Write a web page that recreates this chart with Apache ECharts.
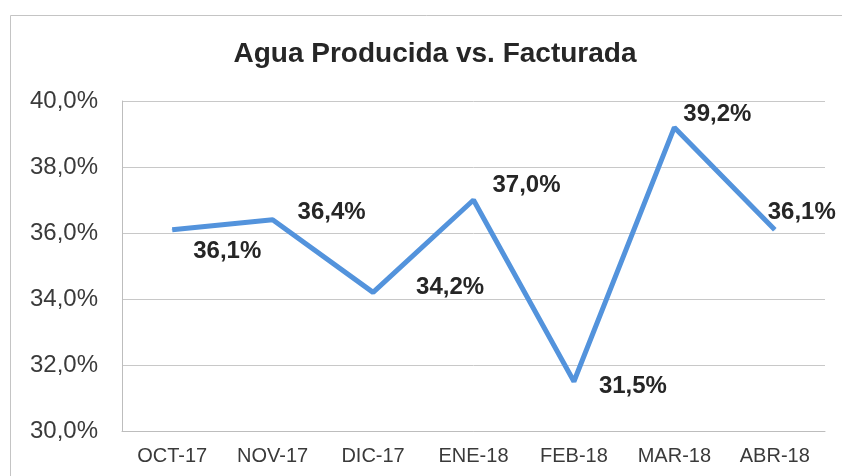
<!DOCTYPE html>
<html>
<head>
<meta charset="utf-8">
<title>Agua Producida vs. Facturada</title>
<script src="https://cdn.jsdelivr.net/npm/echarts@6/dist/echarts.min.js"></script>
<style>
    html, body {
        margin: 0;
        padding: 0;
        background: #fff;
    }
    #chartLine {
        width: 842px;
        height: 476px;
    }
</style>
</head>
<body>
<div id="chartLine"></div>
<script>
// data
var months = ["OCT-17", "NOV-17", "DIC-17", "ENE-18", "FEB-18", "MAR-18", "ABR-18"];
var percent = [36.1, 36.4, 34.2, 37.0, 31.5, 39.2, 36.1];
var yTicks = { min: 30, max: 40, step: 2 };

// where each value label sits relative to its point (px)
var labelOffsets = [[55, 22], [59, -7], [77, -5], [53, -15], [59, 5], [43, -13], [27, -17]];

function fmt(v) {
    return v.toFixed(1).replace(".", ",") + "%";
}

var chartLine = echarts.init(document.getElementById("chartLine"));
chartLine.setOption({
    animation: false,
    textStyle: { fontFamily: "Liberation Sans, Arial, sans-serif" },
    graphic: [
        {
            type: "rect",
            left: 8,
            top: 13,
            shape: { width: 900, height: 500 },
            style: { fill: "none", stroke: "#c4c4c4", lineWidth: 1 },
            silent: true
        }
    ],
    title: {
        text: "Agua Producida vs. Facturada",
        left: 430,
        top: 35,
        textAlign: "center",
        textStyle: {
            fontSize: 28,
            fontWeight: "bold",
            color: "#262626"
        }
    },
    grid: {
        left: 122,
        right: 17,
        top: 101,
        bottom: 45
    },
    xAxis: {
        type: "category",
        data: months,
        boundaryGap: true,
        axisLine: { lineStyle: { color: "#bdbdbd", width: 1 } },
        axisTick: { show: false },
        axisLabel: {
            margin: 15,
            fontSize: 20,
            color: "#3a3a3a"
        }
    },
    yAxis: {
        type: "value",
        min: yTicks.min,
        max: yTicks.max,
        interval: yTicks.step,
        axisLine: { show: true, lineStyle: { color: "#bdbdbd", width: 1 } },
        axisTick: { show: false },
        splitLine: { lineStyle: { color: "#c8c8c8", width: 1 } },
        axisLabel: {
            margin: 24,
            fontSize: 24,
            color: "#3a3a3a",
            formatter: fmt
        }
    },
    series: [
        {
            name: "Agua Producida vs. Facturada",
            type: "line",
            symbol: "circle",
            symbolSize: 1,
            lineStyle: { color: "#5393dc", width: 5 },
            itemStyle: { color: "#5393dc" },
            label: {
                show: true,
                position: "inside",
                fontSize: 24,
                fontWeight: "bold",
                color: "#262626",
                formatter: function (p) {
                    return fmt(p.value);
                }
            },
            data: percent.map(function (v, i) {
                return { value: v, label: { offset: labelOffsets[i] } };
            })
        }
    ]
});
</script>
</body>
</html>
